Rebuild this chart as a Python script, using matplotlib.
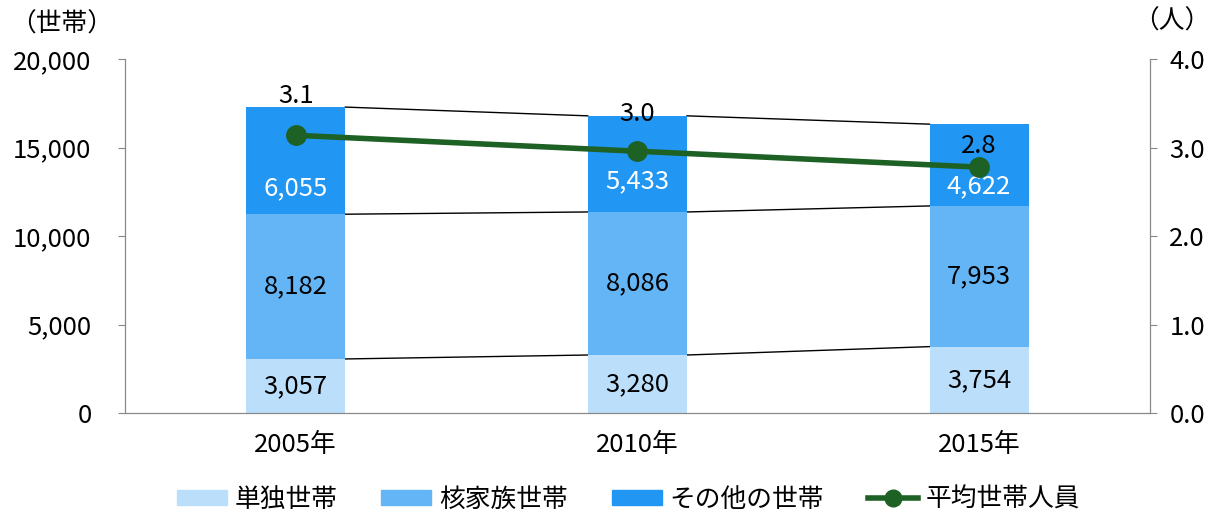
import numpy as np
import matplotlib.pyplot as plt
from matplotlib.patches import Patch
from matplotlib.lines import Line2D

plt.rcParams['font.family'] = ['Noto Sans CJK JP', 'DejaVu Sans']

years = ['2005年', '2010年', '2015年']
single = [3057, 3280, 3754]
nuclear = [8182, 8086, 7953]
other = [6055, 5433, 4622]
avg_size = [3.14, 2.96, 2.78]

c_single = '#BBDEFB'
c_nuclear = '#64B5F6'
c_other = '#2196F3'
c_line = '#1E6125'

fig = plt.figure(figsize=(12.13, 5.15), dpi=100)
ax = fig.add_axes([0.103, 0.198, 0.845, 0.687])

x = np.arange(len(years))
w = 0.29
single = np.array(single)
nuclear = np.array(nuclear)
other = np.array(other)

ax.bar(x, single, w, color=c_single, zorder=2)
ax.bar(x, nuclear, w, bottom=single, color=c_nuclear, zorder=2)
ax.bar(x, other, w, bottom=single + nuclear, color=c_other, zorder=2)

# series lines between bars
for level in [single, single + nuclear, single + nuclear + other]:
    for i in range(len(x) - 1):
        ax.plot([x[i] + w / 2, x[i + 1] - w / 2], [level[i], level[i + 1]],
                color='black', lw=1, zorder=1)

fs = 18.5
other_off = [19, 22, 14]
for i in range(len(x)):
    ax.text(x[i], single[i] / 2, f'{single[i]:,}', ha='center', va='center', fontsize=fs, color='black', zorder=3)
    ax.text(x[i], single[i] + nuclear[i] / 2, f'{nuclear[i]:,}', ha='center', va='center', fontsize=fs, color='black', zorder=3)
    # その他 labels sit in the lower part of the segment
    ax.annotate(f'{other[i]:,}', (x[i], single[i] + nuclear[i]), xytext=(0, other_off[i]),
                textcoords='offset points', ha='center', va='center', fontsize=fs, color='white', zorder=3)

ax.set_xlim(-0.5, 2.5)
ax.set_ylim(0, 20000)
ax.set_yticks(np.arange(0, 20001, 5000))
ax.set_yticklabels([f'{v:,}' for v in range(0, 20001, 5000)], fontsize=fs)
ax.set_xticks(x)
ax.set_xticklabels(years, fontsize=fs)
ax.tick_params(axis='x', length=0, pad=14)
ax.tick_params(axis='y', length=5, color='#888888', pad=19)
ax.spines['top'].set_visible(False)
for s in ['left', 'bottom', 'right']:
    ax.spines[s].set_color('#888888')

ax2 = ax.twinx()
ax2.plot(x, avg_size, color=c_line, lw=4, marker='o', markersize=14, zorder=5)
ax2.set_ylim(0, 4)
ax2.set_yticks(np.arange(0, 4.01, 1.0))
ax2.set_yticklabels([f'{v:.1f}' for v in np.arange(0, 4.01, 1.0)], fontsize=fs)
ax2.tick_params(axis='y', length=5, color='#888888', pad=9)
ax2.spines['top'].set_visible(False)
for s in ['left', 'bottom', 'right']:
    ax2.spines[s].set_color('#888888')

offsets = [28, 27, 15]
for i in range(len(x)):
    ax2.annotate(f'{avg_size[i]:.1f}', (x[i], avg_size[i]), xytext=(0, offsets[i]),
                 textcoords='offset points', ha='center', va='center', fontsize=fs, color='black')

fig.text(0.008, 0.952, '（世帯）', fontsize=fs, ha='left', va='center')
fig.text(0.998, 0.958, '（人）', fontsize=fs, ha='right', va='center')

handles = [Patch(color=c_single), Patch(color=c_nuclear), Patch(color=c_other),
           Line2D([], [], color=c_line, lw=4, marker='o', markersize=12)]
labels = ['単独世帯', '核家族世帯', 'その他の世帯', '平均世帯人員']
fig.legend(handles, labels, loc='center', bbox_to_anchor=(0.518, 0.03), ncol=4,
           frameon=False, fontsize=fs, handlelength=1.95, handleheight=0.55,
           columnspacing=1.7, handletextpad=0.3)

fig.savefig('out.png', dpi=100)
